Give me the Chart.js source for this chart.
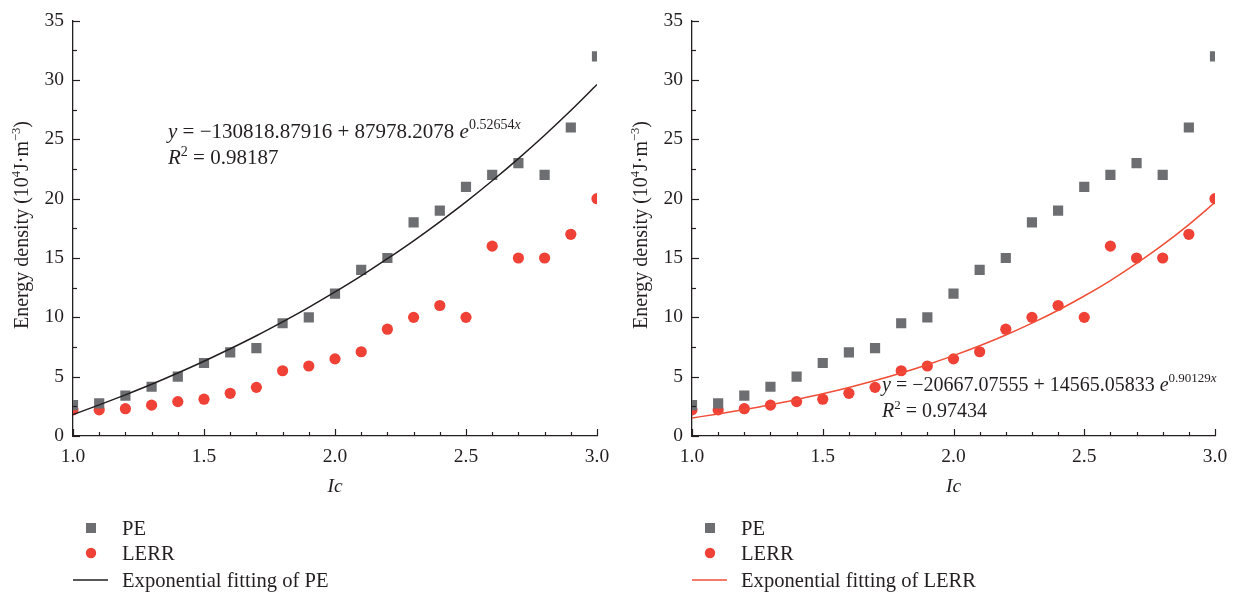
<!DOCTYPE html>
<html><head><meta charset="utf-8">
<script src="https://cdn.jsdelivr.net/npm/chart.js@4.4.0/dist/chart.umd.min.js"></script>
<style>
html,body{margin:0;padding:0;background:#fff;width:1244px;height:597px;overflow:hidden;}
.box{position:absolute;top:0;width:622px;height:597px;}
canvas{display:block;}
</style></head><body>
<div class="box" style="left:0"><canvas id="c1" width="622" height="597"></canvas></div>
<div class="box" style="left:619px"><canvas id="c2" width="622" height="597"></canvas></div>
<script>
// ---- data ----
const ic = [1.0,1.1,1.2,1.3,1.4,1.5,1.6,1.7,1.8,1.9,2.0,2.1,2.2,2.3,2.4,2.5,2.6,2.7,2.8,2.9,3.0];
const pe = [2.6,2.75,3.4,4.15,5.0,6.15,7.05,7.4,9.5,10.0,12.0,14.0,15.0,18.0,19.0,21.0,22.0,23.0,22.0,26.0,32.0];
const lerr = [2.2,2.2,2.3,2.6,2.9,3.1,3.6,4.1,5.5,5.9,6.5,7.1,9.0,10.0,11.0,10.0,16.0,15.0,15.0,17.0,20.0];
const fitPE = [1.81,2.62,3.47,4.36,5.31,6.30,7.35,8.45,9.62,10.84,12.14,13.50,14.94,16.45,18.05,19.73,21.51,23.38,25.35,27.43,29.62];
const fitLERR = [1.52,1.86,2.23,2.63,3.08,3.56,4.09,4.67,5.31,6.01,6.77,7.60,8.51,9.51,10.60,11.80,13.10,14.54,16.10,17.82,19.69];
const xTickLabels = ['1.0','1.5','2.0','2.5','3.0'];
const yTickLabels = ['0','5','10','15','20','25','30','35'];
const legendLabels = ['PE','LERR'];

const FONT = '"Liberation Serif","Times New Roman",serif';
const TXT = '#231f20';
const GRAY = '#6d6e71';
const RED = '#ef4136';

function drawPieces(ctx, pieces, x, y) {
  let cx = x;
  for (const p of pieces) {
    ctx.font = (p[2] ? 'italic ' : '') + p[1] + 'px ' + FONT;
    ctx.fillText(p[0], cx, y - (p[3] || 0));
    cx += ctx.measureText(p[0]).width;
  }
  return cx - x;
}
function measurePieces(ctx, pieces) {
  let w = 0;
  for (const p of pieces) {
    ctx.font = (p[2] ? 'italic ' : '') + p[1] + 'px ' + FONT;
    w += ctx.measureText(p[0]).width;
  }
  return w;
}

function makeChart(id, cfg) {
  const decor = {
    id: 'decor',
    afterDraw(chart) {
      const ctx = chart.ctx;
      const xs = chart.scales.x, ys = chart.scales.y;
      const ca = chart.chartArea;
      ctx.save();
      ctx.strokeStyle = TXT;
      ctx.lineWidth = 1.2;
      for (let i = 0; i <= 20; i++) {
        const v = 1 + i * 0.1;
        const px = Math.round(xs.getPixelForValue(v)) + 0.5;
        const len = (i % 5 === 0) ? 7 : 4;
        ctx.beginPath(); ctx.moveTo(px, ca.bottom); ctx.lineTo(px, ca.bottom - len); ctx.stroke();
      }
      for (let i = 0; i <= 14; i++) {
        const v = i * 2.5;
        const py = Math.round(ys.getPixelForValue(v)) + 0.5;
        const len = (i % 2 === 0) ? 7 : 4;
        ctx.beginPath(); ctx.moveTo(ca.left, py); ctx.lineTo(ca.left + len, py); ctx.stroke();
      }
      ctx.fillStyle = TXT;
      ctx.textBaseline = 'alphabetic';
      ctx.textAlign = 'left';
      const xt = [['Ic', 19.5, true, 0]];
      const xw = measurePieces(ctx, xt);
      drawPieces(ctx, xt, (ca.left + ca.right) / 2 - xw / 2, 492);
      const yt = [['Energy density (10', 20, false, 0], ['4', 12.5, false, 8], ['J·m', 20, false, 0], ['\u22123', 12.5, false, 8], [')', 20, false, 0]];
      const yw = measurePieces(ctx, yt);
      ctx.save();
      ctx.translate(cfg.yTitleX, 225);
      ctx.rotate(-Math.PI / 2);
      drawPieces(ctx, yt, -yw / 2, 6.5);
      ctx.restore();
      drawPieces(ctx, cfg.eq1, cfg.eqX, cfg.eqY);
      drawPieces(ctx, cfg.eq2, cfg.eqX, cfg.eqY + 26);
      const lx = cfg.legX;
      const rows = [528, 553, 580];
      const ds = chart.data.datasets;
      ctx.fillStyle = ds[1].backgroundColor;
      ctx.fillRect(lx - 5, rows[0] - 5, 10, 10);
      ctx.fillStyle = ds[2].backgroundColor;
      ctx.beginPath(); ctx.arc(lx, rows[1], 5.2, 0, Math.PI * 2); ctx.fill();
      ctx.strokeStyle = ds[0].borderColor;
      ctx.lineWidth = 1.5;
      ctx.beginPath(); ctx.moveTo(lx - 18, rows[2]); ctx.lineTo(lx + 17, rows[2]); ctx.stroke();
      ctx.fillStyle = TXT;
      ctx.font = '20.6px ' + FONT;
      ctx.fillText(legendLabels[0], lx + 31, rows[0] + 7);
      ctx.fillText(legendLabels[1], lx + 31, rows[1] + 7);
      ctx.fillText(ds[0].label, lx + 31, rows[2] + 7);
      ctx.restore();
    }
  };
  return new Chart(document.getElementById(id), {
    type: 'scatter',
    data: {
      datasets: [
        { label: cfg.fitLabel, data: ic.map((x, i) => ({ x: x, y: cfg.fit[i] })), showLine: true,
          borderColor: cfg.fitColor, backgroundColor: cfg.fitColor, borderWidth: 1.5, pointRadius: 0,
          cubicInterpolationMode: 'monotone', clip: 0 },
        { label: legendLabels[0], data: ic.map((x, i) => ({ x: x, y: pe[i] })), pointStyle: 'rect',
          pointRadius: 7.2, backgroundColor: GRAY, borderWidth: 0, clip: 0 },
        { label: legendLabels[1], data: ic.map((x, i) => ({ x: x, y: lerr[i] })), pointStyle: 'circle',
          pointRadius: 5.6, backgroundColor: RED, borderWidth: 0, clip: 0 }
      ]
    },
    options: {
      responsive: false,
      animation: false,
      devicePixelRatio: 1,
      layout: { padding: { top: 16, right: cfg.rightPad, bottom: 0, left: 0 } },
      plugins: { legend: { display: false }, tooltip: { enabled: false } },
      scales: {
        x: {
          type: 'linear', min: 1, max: 3,
          ticks: { stepSize: 0.5, autoSkip: false, maxRotation: 0, padding: 9, color: TXT,
            font: { family: FONT, size: 19.5 },
            callback: (v) => { const k = Math.round((v - 1) / 0.5); return xTickLabels[k]; } },
          grid: { display: true, drawOnChartArea: false, drawTicks: false },
          border: { display: true, color: TXT, width: 1.3 },
          afterFit: (s) => { s.height = 161; }
        },
        y: {
          type: 'linear', min: 0, max: 35,
          ticks: { stepSize: 5, padding: 9, color: TXT, font: { family: FONT, size: 19.5 },
            callback: (v) => yTickLabels[Math.round(v / 5)] },
          grid: { display: true, drawOnChartArea: false, drawTicks: false },
          border: { display: true, color: TXT, width: 1.3 },
          afterFit: (s) => { s.width = 73; }
        }
      }
    },
    plugins: [decor]
  });
}

makeChart('c1', {
  fit: fitPE, fitColor: '#231f20', fitLabel: 'Exponential fitting of PE', rightPad: 25,
  yTitleX: 21, eqX: 168, eqY: 138, legX: 91,
  eq1: [['y', 21, true, 0], [' = \u2212130818.87916 + 87978.2078 ', 21, false, 0], ['e', 21, true, 0], ['0.52654', 14, false, 9], ['x', 14, true, 9]],
  eq2: [['R', 21, true, 0], ['2', 14, false, 8], [' = 0.98187', 21, false, 0]]
});
makeChart('c2', {
  fit: fitLERR, fitColor: '#f04e37', fitLabel: 'Exponential fitting of LERR', rightPad: 26,
  yTitleX: 21, eqX: 882 - 619, eqY: 391, legX: 710 - 619,
  eq1: [['y', 20, true, 0], [' = \u221220667.07555 + 14565.05833 ', 20, false, 0], ['e', 20, true, 0], ['0.90129', 13, false, 9], ['x', 13, true, 9]],
  eq2: [['R', 20, true, 0], ['2', 13, false, 8], [' = 0.97434', 20, false, 0]]
});
</script>
</body></html>
